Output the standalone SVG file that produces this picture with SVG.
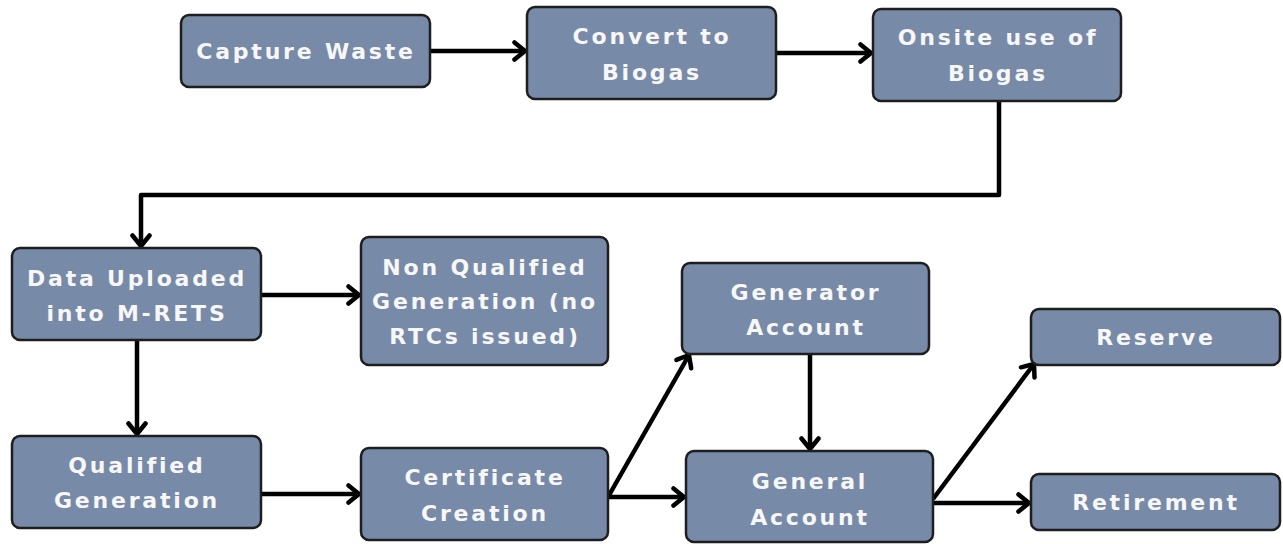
<svg xmlns="http://www.w3.org/2000/svg" width="1283" height="544" viewBox="0 0 1283 544">
<defs>
<style>
.box{fill:#778aa8;stroke:#1e1e1e;stroke-width:2.5}
.t{font-family:"DejaVu Sans","Liberation Sans",sans-serif;font-weight:bold;font-size:22px;fill:#f7f7f7;text-anchor:middle;letter-spacing:2.8px}
.c{fill:none;stroke:#000;stroke-width:4.5;stroke-linejoin:round}
</style>
<marker id="ah" markerUnits="userSpaceOnUse" viewBox="0 0 15 22" refX="13" refY="11" markerWidth="15" markerHeight="22" orient="auto">
<path d="M2.5,2.5 L13,11 L2.5,19.5" fill="none" stroke="#000" stroke-width="4.5" stroke-linecap="round" stroke-linejoin="round"/>
</marker>
</defs>
<rect width="1283" height="544" fill="#fff"/>
<g id="connectors">
<line class="c" x1="430" y1="51" x2="525" y2="51" marker-end="url(#ah)"/>
<line class="c" x1="776" y1="53" x2="871" y2="53" marker-end="url(#ah)"/>
<path class="c" d="M999,101 V195 H141 V246" marker-end="url(#ah)"/>
<line class="c" x1="261" y1="295" x2="359" y2="295" marker-end="url(#ah)"/>
<line class="c" x1="137" y1="340" x2="137" y2="434" marker-end="url(#ah)"/>
<line class="c" x1="261" y1="494" x2="359" y2="494" marker-end="url(#ah)"/>
<line class="c" x1="608" y1="497" x2="689" y2="355" marker-end="url(#ah)"/>
<line class="c" x1="608" y1="497" x2="684" y2="497" marker-end="url(#ah)"/>
<line class="c" x1="810" y1="354" x2="810" y2="449" marker-end="url(#ah)"/>
<line class="c" x1="933" y1="499" x2="1034" y2="364" marker-end="url(#ah)"/>
<line class="c" x1="933" y1="503" x2="1029" y2="503" marker-end="url(#ah)"/>
</g>
<g id="capture"><rect class="box" x="181" y="15" width="249" height="72" rx="8"/><text class="t" x="306" y="59">Capture Waste</text></g>
<g id="convert"><rect class="box" x="527" y="7" width="249" height="92" rx="8"/><text class="t" x="652" y="44">Convert to</text><text class="t" x="652" y="80">Biogas</text></g>
<g id="onsite"><rect class="box" x="873" y="9" width="248" height="92" rx="8"/><text class="t" x="998" y="45">Onsite use of</text><text class="t" x="998" y="81">Biogas</text></g>
<g id="data"><rect class="box" x="12" y="248" width="249" height="92" rx="8"/><text class="t" x="137" y="286">Data Uploaded</text><text class="t" x="137" y="321">into M-RETS</text></g>
<g id="nonqualified"><rect class="box" x="361" y="237" width="247" height="128" rx="8"/><text class="t" x="485" y="275">Non Qualified</text><text class="t" x="485" y="309">Generation (no</text><text class="t" x="485" y="344">RTCs issued)</text></g>
<g id="generator"><rect class="box" x="682" y="263" width="247" height="91" rx="8"/><text class="t" x="806" y="300">Generator</text><text class="t" x="806" y="335">Account</text></g>
<g id="reserve"><rect class="box" x="1031" y="309" width="249" height="56" rx="8"/><text class="t" x="1156" y="345">Reserve</text></g>
<g id="qualified"><rect class="box" x="12" y="436" width="249" height="92" rx="8"/><text class="t" x="137" y="473">Qualified</text><text class="t" x="137" y="508">Generation</text></g>
<g id="certificate"><rect class="box" x="361" y="448" width="247" height="92" rx="8"/><text class="t" x="485" y="485">Certificate</text><text class="t" x="485" y="521">Creation</text></g>
<g id="general"><rect class="box" x="686" y="451" width="247" height="91" rx="8"/><text class="t" x="810" y="489">General</text><text class="t" x="810" y="525">Account</text></g>
<g id="retirement"><rect class="box" x="1031" y="474" width="249" height="56" rx="8"/><text class="t" x="1156" y="510">Retirement</text></g>
</svg>
